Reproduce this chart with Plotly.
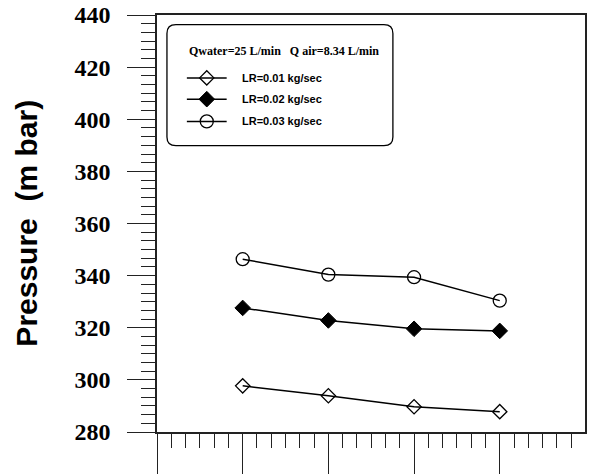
import plotly.graph_objects as go

# ---- data ----
x_pos = [1, 2, 3, 4]
lr_001 = [297.7, 293.9, 289.7, 287.8]
lr_002 = [327.6, 322.8, 319.6, 318.8]
lr_003 = [346.3, 340.4, 339.4, 330.4]
series_names = ["LR=0.01 kg/sec", "LR=0.02 kg/sec", "LR=0.03 kg/sec"]
legend_title = "Qwater=25 L/min   Q air=8.34 L/min"
y_title = "Pressure  (m bar)"
y_ticks = [280, 300, 320, 340, 360, 380, 400, 420, 440]
y_ticktext = ["<b>%d</b>" % v for v in y_ticks]

W, H = 589, 474
ML, MR, MT, MB = 157, 2, 15, 28
PW, PH = W - ML - MR, H - MT - MB

def X(px):
    return (px - ML) / PW

def Y(py):
    return (H - MB - py) / PH

AX = "#222222"
SERIF = "Liberation Serif"
SANS = "Liberation Sans"
styles = [
    dict(symbol="diamond-open", size=11, color="black", line=dict(width=1.3, color="black")),
    dict(symbol="diamond", size=12, color="black", line=dict(width=1, color="black")),
    dict(symbol="circle-open", size=13, color="black", line=dict(width=1.3, color="black")),
]
data = [lr_001, lr_002, lr_003]

fig = go.Figure()
for name, ys, mk in zip(series_names, data, styles):
    fig.add_trace(go.Scatter(x=x_pos, y=ys, mode="lines+markers", name=name,
                             line=dict(color="black", width=1.5), marker=mk,
                             showlegend=False, cliponaxis=False))

# custom legend samples (overlay axes in paper-like units)
leg_rows = [80, 102, 125]
for name, mk, ry in zip(series_names, styles, leg_rows):
    fig.add_trace(go.Scatter(x=[X(187), X(227)], y=[Y(ry), Y(ry)], mode="lines",
                             line=dict(color="black", width=1.5), xaxis="x2", yaxis="y2",
                             showlegend=False, hoverinfo="skip", cliponaxis=False))
    fig.add_trace(go.Scatter(x=[X(207)], y=[Y(ry)], mode="markers", marker=mk,
                             xaxis="x2", yaxis="y2", showlegend=False,
                             hoverinfo="skip", cliponaxis=False))
    fig.add_annotation(x=X(240), y=Y(ry), xref="paper", yref="paper", text="<b>%s</b>" % name,
                       showarrow=False, xanchor="left", yanchor="middle",
                       font=dict(family=SANS, size=11, color="black"))

fig.add_annotation(x=X(285), y=Y(52), xref="paper", yref="paper", text="<b>%s</b>" % legend_title,
                   showarrow=False, xanchor="center", yanchor="middle",
                   font=dict(family=SERIF, size=12, color="black"))

# rounded legend box
x0, x1, y0, y1, r = 167, 394, 25, 150, 9
path = (f"M {X(x0+r)},{Y(y0)} L {X(x1-r)},{Y(y0)} Q {X(x1)},{Y(y0)} {X(x1)},{Y(y0+r)} "
        f"L {X(x1)},{Y(y1-r)} Q {X(x1)},{Y(y1)} {X(x1-r)},{Y(y1)} "
        f"L {X(x0+r)},{Y(y1)} Q {X(x0)},{Y(y1)} {X(x0)},{Y(y1-r)} "
        f"L {X(x0)},{Y(y0+r)} Q {X(x0)},{Y(y0)} {X(x0+r)},{Y(y0)} Z")
fig.add_shape(type="path", path=path, xref="paper", yref="paper",
              line=dict(color="black", width=1.3), fillcolor="rgba(0,0,0,0)")

# y axis title
fig.add_annotation(x=X(25), y=Y(230), xref="paper", yref="paper", text="<b>%s</b>" % y_title,
                   textangle=-90, showarrow=False, xanchor="center", yanchor="middle",
                   font=dict(family=SANS, size=30, color="black"))

fig.update_layout(
    width=W, height=H, margin=dict(l=ML, r=MR, t=MT, b=MB),
    paper_bgcolor="white", plot_bgcolor="white",
    font=dict(family=SERIF, color="black"),
    xaxis=dict(range=[0, 4.995], showgrid=False, zeroline=False, showline=True,
               mirror=True, linecolor=AX, linewidth=1.5,
               tick0=0, dtick=1, ticks="outside", ticklen=40, tickwidth=1.3,
               tickcolor=AX, showticklabels=False,
               minor=dict(dtick=1/6, tick0=0, ticks="outside", ticklen=14,
                          tickwidth=1.2, tickcolor=AX)),
    yaxis=dict(range=[280, 440], showgrid=False, zeroline=False, showline=True,
               mirror=True, linecolor=AX, linewidth=1.5,
               tickmode="array", tickvals=y_ticks, ticktext=y_ticktext,
               ticks="outside", ticklen=28, tickwidth=1.3,
               tickcolor=AX, ticklabelstandoff=12,
               tickfont=dict(family=SERIF, size=24, color="black"),
               minor=dict(dtick=20/6, tick0=280, ticks="outside", ticklen=14,
                          tickwidth=1.2, tickcolor=AX)),
    xaxis2=dict(overlaying="x", range=[0, 1], visible=False),
    yaxis2=dict(overlaying="y", range=[0, 1], visible=False),
)

fig.write_html("out.html")
